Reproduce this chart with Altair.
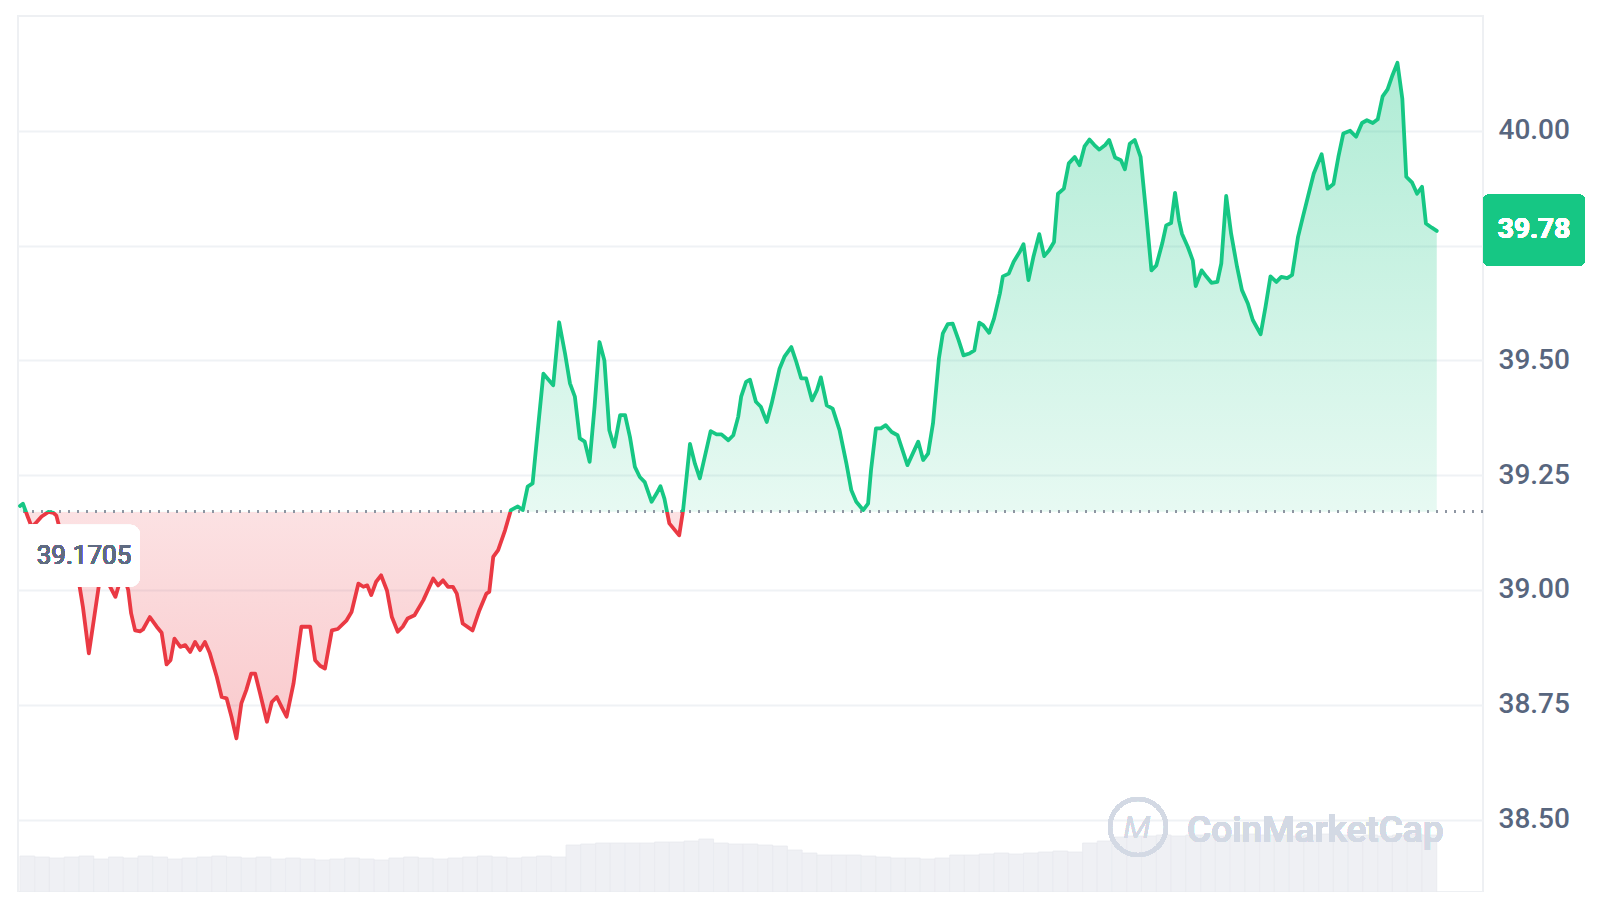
import altair as alt
import pandas as pd

# ---------------- data ----------------
BASE_PRICE = 39.1705
LAST_PRICE = 39.78

minutes = [
    0, 3, 8, 12, 17, 22, 29, 34, 37, 39, 46, 53, 59, 64, 70, 75, 80, 83, 87, 90,
    97, 101, 105, 110, 113, 117, 122, 125, 132, 139, 144, 149, 153, 157, 163, 168, 173, 178, 183, 188,
    193, 200, 205, 210, 215, 220, 225, 230, 235, 239, 244, 251, 256, 261, 266, 271, 278, 286, 295, 300,
    305, 310, 317, 323, 332, 337, 344, 349, 353, 357, 362, 367, 373, 378, 384, 389, 394, 401, 410, 420,
    425, 430, 435, 440, 444, 450, 460, 467, 474, 477, 481, 486, 493, 499, 506, 511, 516, 521, 527, 532,
    542, 548, 554, 559, 564, 569, 574, 579, 584, 589, 594, 599, 604, 610, 615, 620, 625, 630, 635, 642,
    647, 651, 655, 660, 670, 674, 681, 686, 691, 696, 702, 708, 713, 720, 725, 730, 733, 738, 742, 748,
    753, 759, 764, 772, 777, 784, 789, 794, 799, 805, 810, 814, 820, 826, 833, 840, 845, 850, 857, 862,
    865, 870, 875, 880, 886, 892, 902, 913, 918, 923, 928, 934, 938, 943, 948, 954, 959, 965, 970, 975,
    979, 985, 990, 996, 999, 1005, 1010, 1016, 1020, 1025, 1030, 1036, 1041, 1046, 1051, 1055, 1061, 1066, 1072, 1077,
    1082, 1087, 1092, 1097, 1103, 1107, 1113, 1119, 1123, 1128, 1133, 1139, 1144, 1150, 1155, 1161, 1165, 1170, 1174, 1178,
    1181, 1187, 1192, 1195, 1201, 1206, 1211, 1217, 1221, 1226, 1231, 1237, 1242, 1248, 1253, 1261, 1266, 1271, 1277, 1282,
    1288, 1293, 1299, 1304, 1309, 1315, 1323, 1329, 1335, 1340, 1345, 1352, 1358, 1364, 1369, 1375, 1380, 1385, 1390, 1395,
    1400, 1405, 1409, 1415, 1420, 1425, 1429, 1435, 1440,
]

prices = [
    39.183, 39.188, 39.159, 39.137, 39.148, 39.160, 39.170, 39.168, 39.162, 39.145,
    39.102, 39.065, 39.029, 38.963, 38.862, 38.934, 39.007, 39.043, 39.036, 39.014,
    38.985, 39.014, 39.036, 39.000, 38.949, 38.912, 38.910, 38.914, 38.941, 38.920,
    38.907, 38.838, 38.847, 38.894, 38.876, 38.880, 38.865, 38.887, 38.869, 38.887,
    38.862, 38.811, 38.767, 38.764, 38.724, 38.677, 38.753, 38.782, 38.818, 38.818,
    38.775, 38.713, 38.756, 38.767, 38.745, 38.724, 38.796, 38.920, 38.920, 38.847,
    38.835, 38.829, 38.912, 38.915, 38.934, 38.952, 39.014, 39.007, 39.010, 38.989,
    39.018, 39.032, 38.999, 38.941, 38.909, 38.920, 38.938, 38.945, 38.978, 39.025,
    39.010, 39.021, 39.007, 39.007, 38.992, 38.927, 38.912, 38.956, 38.992, 38.996,
    39.072, 39.087, 39.130, 39.174, 39.182, 39.174, 39.225, 39.232, 39.363, 39.471,
    39.446, 39.583, 39.515, 39.450, 39.421, 39.330, 39.323, 39.279, 39.399, 39.540,
    39.500, 39.348, 39.312, 39.381, 39.381, 39.333, 39.268, 39.246, 39.235, 39.192,
    39.210, 39.226, 39.199, 39.145, 39.119, 39.174, 39.318, 39.275, 39.243, 39.290,
    39.346, 39.339, 39.339, 39.326, 39.337, 39.377, 39.421, 39.453, 39.458, 39.410,
    39.399, 39.366, 39.406, 39.482, 39.508, 39.529, 39.497, 39.461, 39.461, 39.413,
    39.435, 39.463, 39.402, 39.395, 39.348, 39.275, 39.217, 39.192, 39.174, 39.188,
    39.261, 39.352, 39.352, 39.359, 39.344, 39.337, 39.272, 39.323, 39.283, 39.297,
    39.363, 39.504, 39.559, 39.579, 39.580, 39.544, 39.511, 39.515, 39.522, 39.582,
    39.577, 39.560, 39.591, 39.646, 39.683, 39.689, 39.715, 39.736, 39.753, 39.675,
    39.725, 39.775, 39.727, 39.740, 39.758, 39.863, 39.874, 39.929, 39.943, 39.925,
    39.966, 39.981, 39.969, 39.959, 39.969, 39.980, 39.942, 39.936, 39.916, 39.972,
    39.980, 39.943, 39.834, 39.696, 39.707, 39.755, 39.794, 39.799, 39.865, 39.805,
    39.776, 39.747, 39.718, 39.662, 39.696, 39.682, 39.669, 39.671, 39.711, 39.858,
    39.776, 39.704, 39.653, 39.624, 39.588, 39.557, 39.617, 39.683, 39.671, 39.682,
    39.679, 39.686, 39.769, 39.813, 39.856, 39.907, 39.949, 39.874, 39.884, 39.943,
    39.994, 40.000, 39.987, 40.017, 40.023, 40.017, 40.025, 40.075, 40.090, 40.121,
    40.148, 40.070, 39.900, 39.887, 39.863, 39.878, 39.798, 39.789, 39.782,
]

# volume per 15-minute bucket (arbitrary units)
volumes = [
    3.6, 3.5, 3.4, 3.5, 3.6, 3.3, 3.5, 3.4, 3.6, 3.5, 3.3, 3.4, 3.5, 3.6, 3.5, 3.4,
    3.5, 3.3, 3.4, 3.3, 3.2, 3.3, 3.4, 3.3, 3.2, 3.4, 3.5, 3.4, 3.3, 3.4, 3.5, 3.6,
    3.5, 3.4, 3.5, 3.6, 3.5, 4.7, 4.8, 4.9, 4.9, 4.9, 4.9, 5.0, 5.0, 5.1, 5.3, 4.9,
    4.8, 4.8, 4.7, 4.6, 4.2, 3.9, 3.7, 3.7, 3.7, 3.6, 3.5, 3.4, 3.4, 3.3, 3.4, 3.7,
    3.7, 3.8, 3.9, 3.8, 3.9, 4.0, 4.1, 4.0, 4.9, 5.1, 5.5, 5.6, 5.6, 5.7, 5.6, 5.7,
    5.7, 5.6, 5.7, 5.8, 5.7, 5.7, 5.6, 5.7, 5.8, 5.7, 5.6, 5.7, 5.6, 5.7, 5.8, 5.7,
]
BUCKET = 15

y_ticks = [38.50, 38.75, 39.00, 39.25, 39.50, 39.75, 40.00]

# ---------------- styling ----------------
GREEN = "#16c784"
RED = "#ea3943"
GRAY_TXT = "#58667e"
FONT = "Roboto"
W, H = 1465, 876

df = pd.DataFrame({"t": minutes, "price": prices})
vdf = pd.DataFrame({
    "t": [i * BUCKET for i in range(len(volumes))],
    "t2": [(i + 1) * BUCKET for i in range(len(volumes))],
    "vol": volumes,
})

vmax, vmin = max(prices), min(prices)
split = (vmax - BASE_PRICE) / (vmax - vmin)

xscale = alt.Scale(domain=[-2, 1487], nice=False, zero=False)
yscale = alt.Scale(domain=[38.3423, 40.25], nice=False, zero=False)

line_grad = alt.Gradient(
    gradient="linear", x1=0, x2=0, y1=0, y2=1,
    stops=[
        alt.GradientStop(color=GREEN, offset=0),
        alt.GradientStop(color=GREEN, offset=split),
        alt.GradientStop(color=RED, offset=split),
        alt.GradientStop(color=RED, offset=1),
    ],
)
area_grad = alt.Gradient(
    gradient="linear", x1=0, x2=0, y1=0, y2=1,
    stops=[
        alt.GradientStop(color="rgba(22,199,132,0.34)", offset=0),
        alt.GradientStop(color="rgba(22,199,132,0.10)", offset=split),
        alt.GradientStop(color="rgba(234,57,67,0.15)", offset=split),
        alt.GradientStop(color="rgba(234,57,67,0.27)", offset=1),
    ],
)

y_axis = alt.Axis(
    orient="right", values=y_ticks, format=".2f",
    labelExpr="datum.value == 39.75 ? '' : format(datum.value, '.2f')",
    grid=True, gridColor="#eff2f5", gridWidth=2, domain=False, ticks=False,
    labelPadding=15, labelFontSize=28, labelColor=GRAY_TXT, labelFont=FONT,
    labelFontWeight=500, title=None,
)

vol = alt.Chart(vdf).mark_bar(color="#eff0f4", stroke="#e8eaef", strokeWidth=0.8).encode(
    x=alt.X("t:Q", scale=xscale, axis=None),
    x2="t2:Q",
    y=alt.Y("vol:Q", scale=alt.Scale(domain=[0, 87.6], nice=False), axis=None),
    y2=alt.datum(0),
)

base = alt.Chart(df).encode(x=alt.X("t:Q", scale=xscale, axis=None))

area = base.mark_area(fill=area_grad, line=False).encode(
    y=alt.Y("price:Q", scale=yscale, axis=y_axis),
    y2=alt.datum(BASE_PRICE),
)

rule = alt.Chart(df).mark_rule(color="#8f96a3", strokeDash=[2, 7], strokeWidth=2).encode(
    y=alt.datum(BASE_PRICE, scale=yscale)
)

line = base.mark_line(stroke=line_grad, strokeWidth=3.8, strokeJoin="round", strokeCap="round").encode(
    y=alt.Y("price:Q", scale=yscale),
)

lbl_box = alt.Chart(df).mark_rect(
    color="white", opacity=0.82, cornerRadius=10, yOffset=13, y2Offset=75
).encode(
    x=alt.value(2), x2=alt.value(122),
    y=alt.datum(BASE_PRICE, scale=yscale), y2=alt.datum(BASE_PRICE),
)
lbl_txt = alt.Chart(df).mark_text(
    text=f"{BASE_PRICE:.4f}", font=FONT, fontSize=26, fontWeight="normal", color="#5f6b82",
    align="center", baseline="middle", dy=44,
).encode(x=alt.value(66), y=alt.datum(BASE_PRICE, scale=yscale))

tag_box = alt.Chart(df).mark_rect(
    color=GREEN, cornerRadius=6, x2Offset=102, yOffset=-37, y2Offset=34
).encode(
    x=alt.value("width"), x2=alt.value("width"),
    y=alt.datum(LAST_PRICE, scale=yscale), y2=alt.datum(LAST_PRICE),
)
tag_txt = alt.Chart(df).mark_text(
    text=f"{LAST_PRICE:.2f}", font=FONT, fontSize=28, fontWeight="bold", color="white",
    align="center", baseline="middle", xOffset=51, dy=-2,
).encode(x=alt.value("width"), y=alt.datum(LAST_PRICE, scale=yscale))

WM = "#d3d9e4"
logo_ring = alt.Chart(df).mark_point(
    shape="circle", filled=False, size=3136, strokeWidth=4, color=WM, opacity=1
).encode(x=alt.value(1120), y=alt.value(811))
logo_m = alt.Chart(df).mark_text(
    text="M", font=FONT, fontSize=32, fontStyle="italic", fontWeight=300, color=WM,
    align="center", baseline="middle",
).encode(x=alt.value(1119), y=alt.value(812))
wm_txt = alt.Chart(df).mark_text(
    text="CoinMarketCap", font=FONT, fontSize=37, fontWeight=500, color=WM,
    align="left", baseline="alphabetic",
).encode(x=alt.value(1169), y=alt.value(826))

price_layers = alt.layer(area, rule, line, lbl_box, lbl_txt, logo_ring, logo_m, wm_txt, tag_box, tag_txt)

chart = alt.layer(vol, price_layers).resolve_scale(y="independent").properties(
    width=W, height=H,
    autosize=alt.AutoSizeParams(type="none"),
    padding={"left": 10, "top": 8, "right": 109, "bottom": 0},
    background="white",
).configure_view(stroke="#eef0f3", strokeWidth=2)

chart.save("out.html", embed_options={"renderer": "svg", "actions": False})
